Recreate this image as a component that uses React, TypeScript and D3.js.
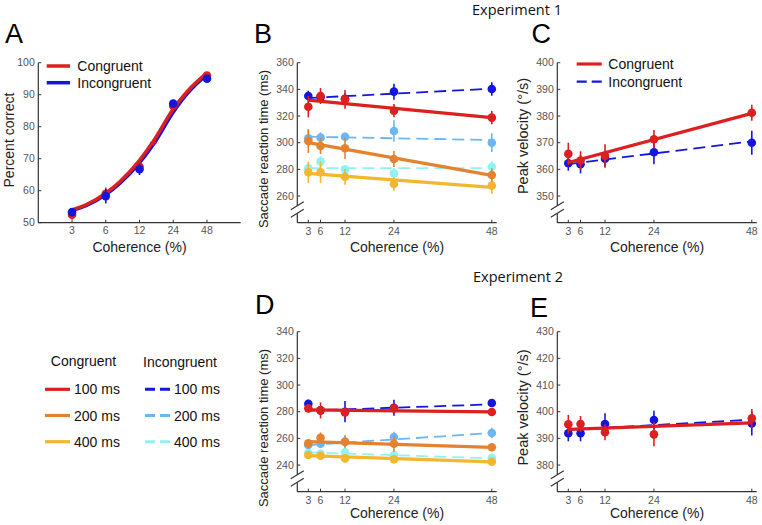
import React from 'react';
import * as d3 from 'd3';

// ---------- shared ----------
const COH = [3, 6, 12, 24, 48];
const COH_TICKS = [3, 6, 12, 24, 48];
const FIT_ENDS = [3, 48];

// ---------- Panel A (percent correct) ----------
const A_CON = [52.5, 59, 67.5, 86.5, 96];
const A_CON_ERR = [1.5, 2, 1.5, 1.2, 1];
const A_INC = [53.3, 58.3, 66.7, 87.2, 95];
const A_INC_ERR = [1.2, 2.3, 1.8, 1, 1];
const A_CURVE_X = [3, 4, 6, 8, 12, 16, 24, 32, 48];
const A_CURVE_CON = [54, 55.6, 59.2, 62.8, 69.5, 75.5, 85.5, 91, 96.8];
const A_CURVE_INC = [53.8, 55.3, 58.8, 62.3, 68.7, 74.5, 84.5, 90.3, 96.3];
const A_THRESH = [16, 75];
const A_YTICKS = [50, 60, 70, 80, 90, 100];

// ---------- Panel B (Exp 1 RT) ----------
const B_INC100 = [335, 334, 333, 338.3, 340.3];
const B_INC100_ERR = [4, 3, 4, 6, 5];
const B_INC100_FIT = [333.5, 340.5];
const B_CON100 = [327, 335, 332.5, 324, 318.8];
const B_CON100_ERR = [8, 6, 7, 5, 5];
const B_CON100_FIT = [332, 318.8];
const B_INC200 = [303.3, 303.8, 304.5, 308.8, 300];
const B_INC200_ERR = [6, 4, 3, 8, 7];
const B_INC200_FIT = [304.5, 302];
const B_CON200 = [301.3, 297.5, 295.8, 287.8, 275.8];
const B_CON200_ERR = [9, 6, 8, 6, 5];
const B_CON200_FIT = [300, 275.5];
const B_INC400 = [280.8, 285.8, 280, 277, 282];
const B_INC400_ERR = [3, 4, 3, 4, 4];
const B_INC400_FIT = [281, 281];
const B_CON400 = [277.8, 277.8, 274.5, 269, 267.8];
const B_CON400_ERR = [8, 8, 6, 5, 6];
const B_CON400_FIT = [277, 266.5];
const B_YTICKS = [260, 280, 300, 320, 340, 360];

// ---------- Panel C (Exp 1 peak velocity) ----------
const C_CON = [365.8, 363.3, 365, 371.3, 381.2];
const C_CON_ERR = [4.2, 3.5, 4.4, 3.5, 3];
const C_CON_FIT = [362.6, 381];
const C_INC = [362.3, 361.9, 364, 366.4, 370];
const C_INC_ERR = [2.8, 3.4, 3, 4.5, 4.5];
const C_INC_FIT = [362, 370.5];
const C_YTICKS = [350, 360, 370, 380, 390, 400];

// ---------- Panel D (Exp 2 RT) ----------
const D_INC100 = [286, 281, 280, 283, 286.5];
const D_INC100_ERR = [3, 3, 8, 6, 3];
const D_INC100_FIT = [280.8, 285.5];
const D_CON100 = [282.5, 281, 279.5, 282.5, 279.8];
const D_CON100_ERR = [3, 6, 4, 4, 3];
const D_CON100_FIT = [281.3, 279.8];
const D_INC200 = [255, 256, 257.5, 261, 264];
const D_INC200_ERR = [3, 3, 5, 4, 4];
const D_INC200_FIT = [255, 264];
const D_CON200 = [256.3, 260.5, 257.5, 256, 253.3];
const D_CON200_ERR = [3, 4, 4, 6, 3];
const D_CON200_FIT = [257.5, 253.2];
const D_INC400 = [249, 248.5, 249.5, 247.5, 245.5];
const D_INC400_ERR = [3, 3, 3, 3, 3];
const D_INC400_FIT = [249.5, 245];
const D_CON400 = [247.5, 247, 245, 244.3, 242.5];
const D_CON400_ERR = [3, 3, 3, 3, 3];
const D_CON400_FIT = [247, 242.3];
const D_YTICKS = [240, 260, 280, 300, 320, 340];

// ---------- Panel E (Exp 2 peak velocity) ----------
const E_CON = [395.3, 395.4, 392.3, 391.5, 397.5];
const E_CON_ERR = [3.5, 3, 3, 4.5, 3.5];
const E_CON_FIT = [393.4, 395.8];
const E_INC = [391.9, 391.9, 395.4, 396.9, 395.6];
const E_INC_ERR = [3, 3, 4, 3.5, 4.5];
const E_INC_FIT = [393.2, 397];
const E_YTICKS = [380, 390, 400, 410, 420, 430];

// ---------- legend ----------
const DURATIONS = ['100 ms', '200 ms', '400 ms'];

// ---------- style ----------
const RED = '#dc1f1f';
const BLUE = '#1515e0';
const ORANGE = '#e5822f';
const YELLOW = '#f2b72e';
const LIGHTBLUE = '#6cb6f2';
const CYAN = '#90f2f2';
const CON_COLORS = [RED, ORANGE, YELLOW];
const INC_COLORS = [BLUE, LIGHTBLUE, CYAN];
const FONT = "'Liberation Sans', Arial, Helvetica, sans-serif";
const TITLE_FONT = "'Open Sans', 'Noto Sans', sans-serif";
const AXIS = '#333';
const TICKTXT = '#555';
const DASH = '12,6';

type Series = { vals: number[]; errs: number[]; fit: number[]; color: string; dashed: boolean };

function Points({ s, x, y }: { s: Series; x: any; y: any }) {
  return (
    <g>
      {s.vals.map((v, i) => (
        <g key={i}>
          <line x1={x(COH[i])} x2={x(COH[i])} y1={y(v - s.errs[i])} y2={y(v + s.errs[i])} stroke={s.color} strokeWidth={1.6} />
          <circle cx={x(COH[i])} cy={y(v)} r={4.3} fill={s.color} />
        </g>
      ))}
    </g>
  );
}

function FitLine({ s, x, y }: { s: Series; x: any; y: any }) {
  return (
    <line
      x1={x(FIT_ENDS[0])}
      x2={x(FIT_ENDS[1])}
      y1={y(s.fit[0])}
      y2={y(s.fit[1])}
      stroke={s.color}
      strokeWidth={s.dashed ? 1.8 : 3.2}
      strokeDasharray={s.dashed ? DASH : undefined}
    />
  );
}

function Frame({
  x, y, yTicks, xTickY, xLabelY, yLabel, yLabelX, yLabelY, yLabelSize, brk,
}: {
  x: any; y: any; yTicks: number[]; xTickY: number; xLabelY: number; yLabel: string;
  yLabelX: number; yLabelY: number; yLabelSize: number; brk: boolean;
}) {
  const [x0, x1] = x.range();
  const [yb, yt] = y.range();
  const b1 = yb - 17;
  const b2 = yb - 9.5;
  return (
    <g fontFamily={FONT}>
      {brk ? (
        <g stroke={AXIS} strokeWidth={1.2}>
          <line x1={x0} x2={x0} y1={yt} y2={b1} />
          <line x1={x0} x2={x0} y1={b2} y2={yb} />
          <line x1={x0 - 6.5} x2={x0 + 6.5} y1={b1 + 4} y2={b1 - 4} />
          <line x1={x0 - 6.5} x2={x0 + 6.5} y1={b2 + 4} y2={b2 - 4} />
        </g>
      ) : (
        <line x1={x0} x2={x0} y1={yt} y2={yb} stroke={AXIS} strokeWidth={1.2} />
      )}
      <line x1={x0} x2={x1} y1={yb} y2={yb} stroke={AXIS} strokeWidth={1.2} />
      {yTicks.map((t) => (
        <g key={t}>
          <line x1={x0} x2={x0 + 3} y1={y(t)} y2={y(t)} stroke={AXIS} strokeWidth={1} />
          <text x={x0 - 3.5} y={y(t) + 3.7} textAnchor="end" fontSize={10.5} fill={TICKTXT}>{t}</text>
        </g>
      ))}
      {COH_TICKS.map((t) => (
        <g key={t}>
          <line x1={x(t)} x2={x(t)} y1={yb} y2={yb - 3} stroke={AXIS} strokeWidth={1} />
          <text x={x(t)} y={xTickY + 3.7} textAnchor="middle" fontSize={10.5} fill={TICKTXT}>{t}</text>
        </g>
      ))}
      <text x={(x0 + x1) / 2} y={xLabelY + 5} textAnchor="middle" fontSize={14} fill="#222">Coherence (%)</text>
      <text
        transform={`translate(${yLabelX},${yLabelY}) rotate(-90)`}
        textAnchor="middle"
        dy="0.35em"
        fontSize={yLabelSize}
        fill="#222"
      >
        {yLabel}
      </text>
    </g>
  );
}

function RTSeries(vals: number[][], errs: number[][], fits: number[][]): { inc: Series[]; con: Series[] } {
  const inc = [0, 1, 2].map((i) => ({ vals: vals[i * 2], errs: errs[i * 2], fit: fits[i * 2], color: INC_COLORS[i], dashed: true }));
  const con = [0, 1, 2].map((i) => ({ vals: vals[i * 2 + 1], errs: errs[i * 2 + 1], fit: fits[i * 2 + 1], color: CON_COLORS[i], dashed: false }));
  return { inc, con };
}

function SeriesGroup({ inc, con, x, y }: { inc: Series[]; con: Series[]; x: any; y: any }) {
  const incR = [...inc].reverse();
  const conR = [...con].reverse();
  return (
    <g>
      {incR.map((s, i) => <FitLine key={'fi' + i} s={s} x={x} y={y} />)}
      {incR.map((s, i) => <Points key={'pi' + i} s={s} x={x} y={y} />)}
      {conR.map((s, i) => <FitLine key={'fc' + i} s={s} x={x} y={y} />)}
      {conR.map((s, i) => <Points key={'pc' + i} s={s} x={x} y={y} />)}
    </g>
  );
}

export default function App() {
  // scales
  const xA = d3.scaleLog().base(2).domain([1.5, 96]).range([38.3, 240.7]);
  const yA = d3.scaleLinear().domain([50, 100]).range([222.7, 62.7]);
  const xL = d3.scaleLinear().domain([0.3, 49.2]).range([297.3, 496.7]);
  const xR = d3.scaleLinear().domain([0.3, 49.2]).range([557.3, 756.7]);
  const yB = d3.scaleLinear().domain([240, 360]).range([222.7, 62.7]);
  const yC = d3.scaleLinear().domain([340, 400]).range([222.7, 62.7]);
  const yD = d3.scaleLinear().domain([220, 340]).range([491.7, 331.7]);
  const yE = d3.scaleLinear().domain([370, 430]).range([491.7, 331.7]);

  const curve = d3
    .line<number>()
    .x((_, i) => xA(A_CURVE_X[i]))
    .y((d) => yA(d))
    .curve(d3.curveMonotoneX);

  const B = RTSeries(
    [B_INC100, B_CON100, B_INC200, B_CON200, B_INC400, B_CON400],
    [B_INC100_ERR, B_CON100_ERR, B_INC200_ERR, B_CON200_ERR, B_INC400_ERR, B_CON400_ERR],
    [B_INC100_FIT, B_CON100_FIT, B_INC200_FIT, B_CON200_FIT, B_INC400_FIT, B_CON400_FIT]
  );
  const D = RTSeries(
    [D_INC100, D_CON100, D_INC200, D_CON200, D_INC400, D_CON400],
    [D_INC100_ERR, D_CON100_ERR, D_INC200_ERR, D_CON200_ERR, D_INC400_ERR, D_CON400_ERR],
    [D_INC100_FIT, D_CON100_FIT, D_INC200_FIT, D_CON200_FIT, D_INC400_FIT, D_CON400_FIT]
  );
  const C = {
    inc: [{ vals: C_INC, errs: C_INC_ERR, fit: C_INC_FIT, color: BLUE, dashed: true }],
    con: [{ vals: C_CON, errs: C_CON_ERR, fit: C_CON_FIT, color: RED, dashed: false }],
  };
  const E = {
    inc: [{ vals: E_INC, errs: E_INC_ERR, fit: E_INC_FIT, color: BLUE, dashed: true }],
    con: [{ vals: E_CON, errs: E_CON_ERR, fit: E_CON_FIT, color: RED, dashed: false }],
  };
  const aCon: Series = { vals: A_CON, errs: A_CON_ERR, fit: [], color: RED, dashed: false };
  const aInc: Series = { vals: A_INC, errs: A_INC_ERR, fit: [], color: BLUE, dashed: false };

  const letter = (t: string, x: number, y: number) => (
    <text x={x} y={y} fontFamily={FONT} fontSize={27} fill="#000">{t}</text>
  );

  const legendRows = [389.3, 415.5, 441.7];

  return (
    <svg width={762} height={525} style={{ position: 'absolute', left: 0, top: 0, background: '#fff' }}>
      <rect width={762} height={525} fill="#fff" />
      {/* titles */}
      <text x={517} y={15} textAnchor="middle" fontFamily={TITLE_FONT} fontSize={14.5} fill="#111">Experiment 1</text>
      <text x={518} y={282} textAnchor="middle" fontFamily={TITLE_FONT} fontSize={14.5} fill="#111">Experiment 2</text>
      {letter('A', 5, 42.7)}
      {letter('B', 254, 42.7)}
      {letter('C', 531.5, 43)}
      {letter('D', 255, 313.5)}
      {letter('E', 530, 316.5)}

      {/* Panel A */}
      <Frame x={xA} y={yA} yTicks={A_YTICKS} xTickY={230.7} xLabelY={246.7} yLabel="Percent correct"
        yLabelX={9} yLabelY={140} yLabelSize={14} brk={false} />
      <path d={curve(A_CURVE_INC) || ''} fill="none" stroke={BLUE} strokeWidth={3.5} />
      <path d={curve(A_CURVE_CON) || ''} fill="none" stroke={RED} strokeWidth={3.5} />
      <line x1={xA(A_THRESH[0] * 0.93)} x2={xA(A_THRESH[0] * 1.07)} y1={yA(A_THRESH[1])} y2={yA(A_THRESH[1])} stroke={RED} strokeWidth={1.6} />
      <line x1={xA(A_THRESH[0])} x2={xA(A_THRESH[0])} y1={yA(A_THRESH[1]) - 3} y2={yA(A_THRESH[1]) + 3} stroke={RED} strokeWidth={1.6} />
      <g>
        {[aCon, aInc].map((s, k) => (
          <g key={k}>
            {s.vals.map((v, i) => (
              <g key={i}>
                <line x1={xA(COH[i])} x2={xA(COH[i])} y1={yA(v - s.errs[i])} y2={yA(v + s.errs[i])} stroke={s.color} strokeWidth={1.6} />
                <circle cx={xA(COH[i])} cy={yA(v)} r={4.3} fill={s.color} />
              </g>
            ))}
          </g>
        ))}
      </g>
      <g fontFamily={FONT} fontSize={14} fill="#111">
        <line x1={46.7} x2={70} y1={66} y2={66} stroke={RED} strokeWidth={3.5} />
        <text x={77.3} y={71}>Congruent</text>
        <line x1={46.7} x2={70} y1={82.7} y2={82.7} stroke={BLUE} strokeWidth={3.5} />
        <text x={77.3} y={87.7}>Incongruent</text>
      </g>

      {/* Panel B */}
      <Frame x={xL} y={yB} yTicks={B_YTICKS} xTickY={231.7} xLabelY={246.7} yLabel="Saccade reaction time (ms)"
        yLabelX={263.5} yLabelY={149} yLabelSize={13} brk={true} />
      <SeriesGroup inc={B.inc} con={B.con} x={xL} y={yB} />

      {/* Panel C */}
      <Frame x={xR} y={yC} yTicks={C_YTICKS} xTickY={231.7} xLabelY={246.7} yLabel="Peak velocity (°/s)"
        yLabelX={522.5} yLabelY={136} yLabelSize={14.5} brk={true} />
      <SeriesGroup inc={C.inc} con={C.con} x={xR} y={yC} />
      <g fontFamily={FONT} fontSize={14} fill="#111">
        <line x1={576.7} x2={601.7} y1={64} y2={64} stroke={RED} strokeWidth={3.2} />
        <text x={608.3} y={69}>Congruent</text>
        <line x1={576.7} x2={601.7} y1={81.7} y2={81.7} stroke={BLUE} strokeWidth={2.2} strokeDasharray="10,5" />
        <text x={608.3} y={86.7}>Incongruent</text>
      </g>

      {/* Panel D */}
      <Frame x={xL} y={yD} yTicks={D_YTICKS} xTickY={500} xLabelY={513.3} yLabel="Saccade reaction time (ms)"
        yLabelX={263.3} yLabelY={428} yLabelSize={13} brk={true} />
      <SeriesGroup inc={D.inc} con={D.con} x={xL} y={yD} />

      {/* Panel E */}
      <Frame x={xR} y={yE} yTicks={E_YTICKS} xTickY={500} xLabelY={513.3} yLabel="Peak velocity (°/s)"
        yLabelX={522.5} yLabelY={407.5} yLabelSize={14.5} brk={true} />
      <SeriesGroup inc={E.inc} con={E.con} x={xR} y={yE} />

      {/* Bottom-left legend */}
      <g fontFamily={FONT} fontSize={14} fill="#111">
        <text x={83.5} y={365.7} textAnchor="middle">Congruent</text>
        <text x={180} y={366.5} textAnchor="middle">Incongruent</text>
        {DURATIONS.map((d, i) => (
          <g key={d}>
            <line x1={45} x2={70} y1={legendRows[i]} y2={legendRows[i]} stroke={CON_COLORS[i]} strokeWidth={3.2} />
            <text x={74} y={legendRows[i] + 5}>{d}</text>
            <line x1={145} x2={170} y1={legendRows[i]} y2={legendRows[i]} stroke={INC_COLORS[i]} strokeWidth={3} strokeDasharray="10,5" />
            <text x={174} y={legendRows[i] + 5}>{d}</text>
          </g>
        ))}
      </g>
    </svg>
  );
}
